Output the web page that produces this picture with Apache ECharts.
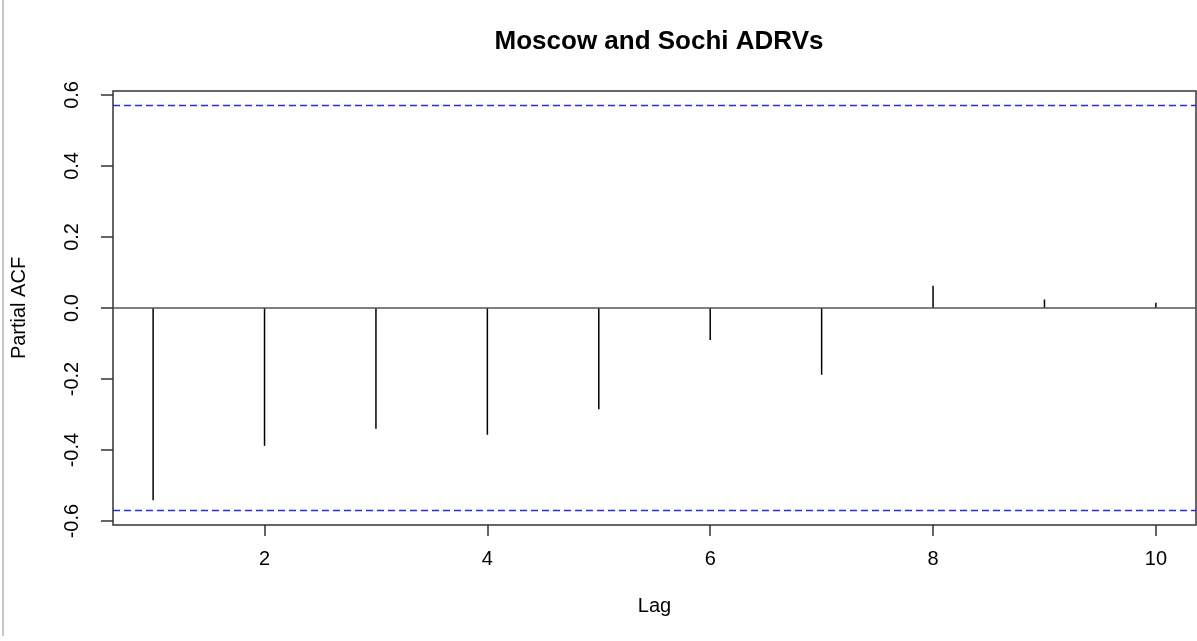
<!DOCTYPE html>
<html>
<head>
<meta charset="utf-8">
<script src="https://cdn.jsdelivr.net/npm/echarts@6/dist/echarts.min.js"></script>
<style>
html,body{margin:0;padding:0;background:#fff;}
#chart{width:1197px;height:641px;}
</style>
</head>
<body>
<div id="chart"></div>
<script>
// Data
const lags = [1, 2, 3, 4, 5, 6, 7, 8, 9, 10];
const pacf = [-0.541, -0.388, -0.340, -0.357, -0.285, -0.090, -0.188, 0.063, 0.024, 0.015];
const ciBound = 0.566;
const xTicks = [2, 4, 6, 8, 10];
const yTicks = [-0.6, -0.4, -0.2, 0.0, 0.2, 0.4, 0.6];
const titleText = 'Moscow and Sochi ADRVs';
const xName = 'Lag';
const yName = 'Partial ACF';

const FONT = "'Liberation Sans', Arial, sans-serif";
const chart = echarts.init(document.getElementById('chart'), null, {renderer: 'canvas'});

function hLine(value, color, type, width) {
  return {
    type: 'line', data: [], silent: true,
    markLine: {
      silent: true, symbol: 'none', label: {show: false}, animation: false,
      lineStyle: {color: color, width: width, type: type},
      data: [{yAxis: value}]
    }
  };
}

const option = {
  backgroundColor: '#fff',
  animation: false,
  title: {
    text: titleText,
    left: 654, top: 24, textAlign: 'center',
    textStyle: {fontFamily: FONT, fontSize: 26, fontWeight: 'bold', color: '#000'}
  },
  grid: {
    left: 113, right: 1, top: 91, bottom: 116,
    outerBoundsMode: 'none', containLabel: false,
    show: true, borderColor: '#333', borderWidth: 1.5, backgroundColor: 'transparent'
  },
  xAxis: {
    type: 'value', min: 0.64, max: 10.36,
    name: xName, nameLocation: 'middle', nameGap: 71,
    nameTextStyle: {fontFamily: FONT, fontSize: 20, color: '#000'},
    axisLine: {show: false, onZero: false},
    splitLine: {show: false},
    axisTick: {show: true, length: 11, customValues: xTicks, lineStyle: {color: '#333', width: 1.5}},
    axisLabel: {customValues: xTicks, margin: 24, fontFamily: FONT, fontSize: 20, color: '#000',
      formatter: v => String(v)}
  },
  yAxis: {
    type: 'value', min: -0.611, max: 0.611,
    name: yName, nameLocation: 'middle', nameGap: 84, nameRotate: 90,
    nameTextStyle: {fontFamily: FONT, fontSize: 20, color: '#000'},
    axisLine: {show: false, onZero: false},
    splitLine: {show: false},
    axisTick: {show: true, length: 12, customValues: yTicks, lineStyle: {color: '#333', width: 1.5}},
    axisLabel: {customValues: yTicks, rotate: 90, margin: 31, fontFamily: FONT, fontSize: 20, color: '#000',
      formatter: v => v.toFixed(1)}
  },
  graphic: [{
    type: 'line', shape: {x1: 3, y1: 0, x2: 3, y2: 636},
    style: {stroke: '#c8c8c8', lineWidth: 2}
  }],
  series: [
    hLine(0, '#555', 'solid', 1.5),
    hLine(ciBound, '#2a2ae8', [7, 4], 1.3),
    hLine(-ciBound, '#2a2ae8', [7, 4], 1.3),
    {
      type: 'bar',
      data: lags.map((l, i) => [l, pacf[i]]),
      barWidth: 1.5,
      itemStyle: {color: '#000'}
    }
  ]
};
chart.setOption(option);
</script>
</body>
</html>
